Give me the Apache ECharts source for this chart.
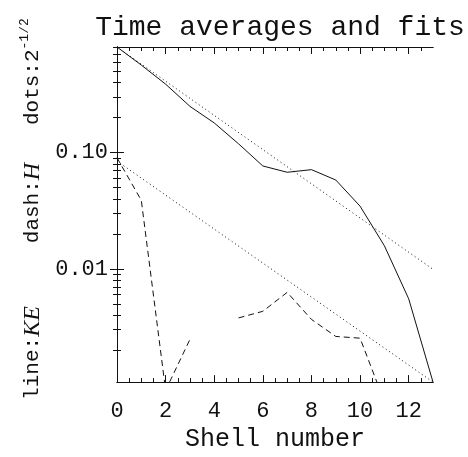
<!DOCTYPE html>
<html><head><meta charset="utf-8">
<script src="https://cdn.jsdelivr.net/npm/echarts@6/dist/echarts.min.js"></script>
<style>html,body{margin:0;padding:0;background:#fff}#c{width:468px;height:457px}</style>
</head><body><div id="c"></div>
<script>
// ---- data ----
const shells = [0,1,2,3,4,5,6,7,8,9,10,11,12,13];
const keValues = [0.81,0.566,0.388,0.250,0.180,0.119,0.0767,0.0677,0.0713,0.0581,0.0346,0.0158,0.00552,0.00106];
const hValues  = [0.0903,0.0388,0.0009,0.00247,null,0.00378,0.00431,0.00627,0.00367,0.00262,0.00253,0.00072,null,null];
const fitKeShells = [0,13];
const fitKeValues = [0.81,0.0099];
const fitHShells  = [0,13];
const fitHValues  = [0.0845,0.00106];
const xMajorTicks = [0,2,4,6,8,10,12];
const xMinorTicks = [0.5,1,1.5,2.5,3,3.5,4.5,5,5.5,6.5,7,7.5,8.5,9,9.5,10.5,11,11.5,12.5];
const yMajorTicks = [0.01,0.1];
const yMinorTicks = [0.002,0.003,0.004,0.005,0.006,0.007,0.008,0.009,0.02,0.03,0.04,0.05,0.06,0.07,0.08,0.09,0.2,0.3,0.4,0.5,0.6,0.7,0.8];
const xMin = 0, xMax = 13, yMin = 0.00106, yMax = 0.81;

const INK = '#111';
const FONT = 'Liberation Mono';
const pairs = (xs, ys) => xs.map((x, i) => [x, ys[i]]);

function xAx(pos, ticks, len, withLabels) {
  return {
    type: 'value', position: pos, min: xMin, max: xMax, gridIndex: 0,
    axisLine: {show: true, lineStyle: {color: INK, width: 1}},
    axisTick: {show: true, inside: true, length: len, customValues: ticks, lineStyle: {color: INK, width: 1}},
    axisLabel: withLabels ? {show: true, customValues: xMajorTicks, fontFamily: FONT, fontSize: 22, color: INK, margin: 18} : {show: false},
    splitLine: {show: false},
    name: withLabels ? 'Shell number' : '',
    nameLocation: 'middle', nameGap: 42,
    nameTextStyle: {fontFamily: FONT, fontSize: 25, color: INK}
  };
}
function yAx(pos, ticks, len, withLabels) {
  const a = {
    type: 'log', logBase: 10, position: pos, min: yMin, max: yMax, gridIndex: 0,
    axisLine: {show: true, lineStyle: {color: INK, width: 1}},
    axisTick: {show: true, inside: true, length: len, customValues: ticks, lineStyle: {color: INK, width: 1}},
    axisLabel: withLabels ? {show: true, customValues: yMajorTicks, fontFamily: FONT, fontSize: 22, color: INK, margin: 9,
      formatter: v => Number(v).toFixed(2)} : {show: false},
    splitLine: {show: false}, minorTick: {show: false}
  };
  if (withLabels) {
    a.name = '{n|line:}{i|KE}{n|     dash:}{i|H}{n|   dots:2}{s|-1/2}';
    a.nameLocation = 'middle';
    a.nameRotate = 90;
    a.nameGap = 65;
    a.nameTextStyle = {
      color: INK,
      padding: [0, 0, 0, 11],
      rich: {
        n: {fontFamily: FONT, fontSize: 21, color: INK, lineHeight: 28},
        i: {fontFamily: 'Liberation Serif', fontStyle: 'italic', fontSize: 24, color: INK, lineHeight: 28},
        s: {fontFamily: FONT, fontSize: 13, color: INK, verticalAlign: 'top', lineHeight: 28}
      }
    };
  }
  return a;
}

const chart = echarts.init(document.getElementById('c'), null, {renderer: 'canvas'});
chart.setOption({
  animation: false,
  backgroundColor: '#fff',
  title: {
    text: 'Time averages and fits', left: 275, top: 9, textAlign: 'center',
    textStyle: {fontFamily: FONT, fontSize: 28, fontWeight: 'normal', color: INK}
  },
  grid: {left: 117, top: 47, width: 316, height: 346, containLabel: false},
  xAxis: [
    xAx('bottom', xMajorTicks, 7, true),
    xAx('bottom', xMinorTicks, 4, false),
    xAx('top', xMajorTicks, 7, false),
    xAx('top', xMinorTicks, 4, false)
  ],
  yAxis: [
    yAx('left', yMajorTicks, 7, true),
    yAx('left', yMinorTicks, 4, false),
    yAx('right', yMajorTicks, 7, false),
    yAx('right', yMinorTicks, 4, false)
  ],
  series: [
    {name: 'KE', type: 'line', data: pairs(shells, keValues), showSymbol: false, clip: true,
     lineStyle: {color: INK, width: 1, type: 'solid'}},
    {name: 'H', type: 'line', data: pairs(shells, hValues), showSymbol: false, clip: true, connectNulls: false,
     lineStyle: {color: INK, width: 1, type: [6, 4]}},
    {name: 'fitKE', type: 'line', data: pairs(fitKeShells, fitKeValues), showSymbol: false, clip: true,
     lineStyle: {color: INK, width: 1, type: [1, 3]}},
    {name: 'fitH', type: 'line', data: pairs(fitHShells, fitHValues), showSymbol: false, clip: true,
     lineStyle: {color: INK, width: 1, type: [1, 3]}}
  ]
});
</script></body></html>
